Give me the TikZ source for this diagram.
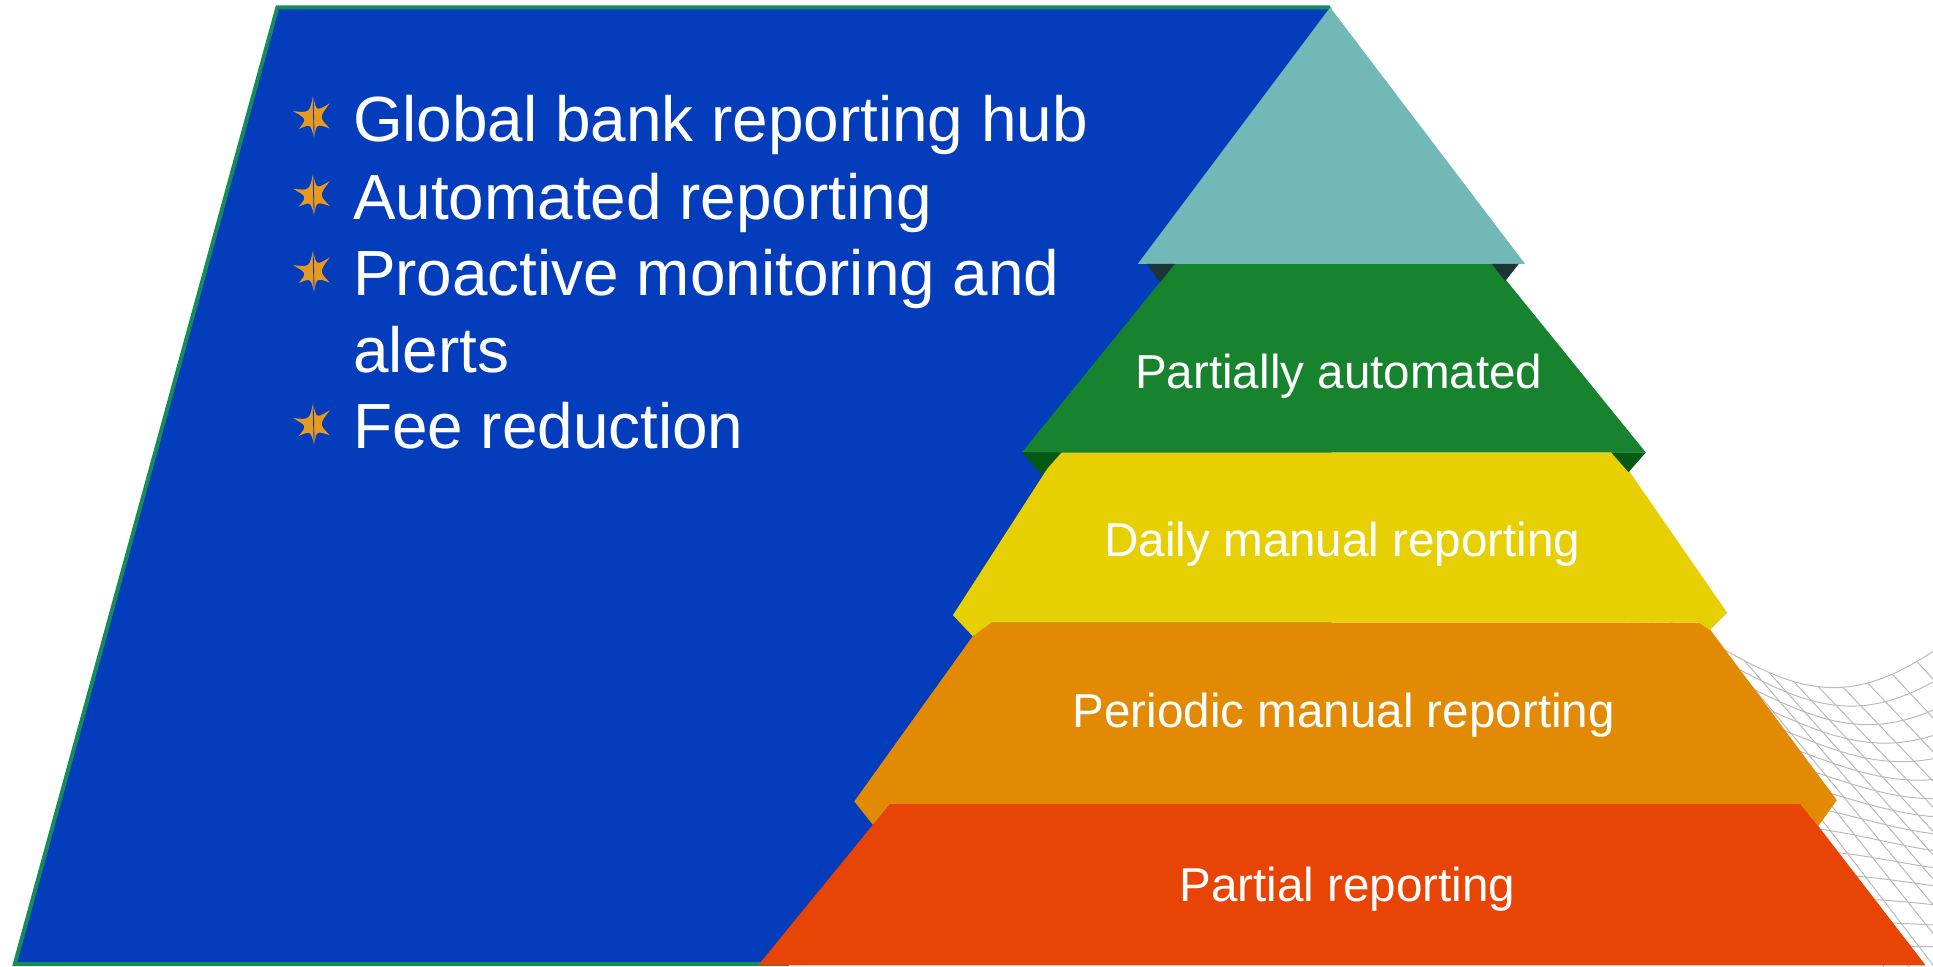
\documentclass[tikz,border=0pt]{standalone}
\usepackage{fontspec}
\setmainfont{Liberation Sans}
\definecolor{bluebg}{RGB}{3,61,188}
\definecolor{blueedge}{RGB}{22,140,90}
\definecolor{teal1}{RGB}{114,184,182}
\definecolor{tealtab}{RGB}{28,53,53}
\definecolor{green1}{RGB}{23,131,47}
\definecolor{greentab}{RGB}{3,90,18}
\definecolor{yellow1}{RGB}{230,208,4}
\definecolor{orange1}{RGB}{227,138,4}
\definecolor{red1}{RGB}{232,68,6}
\definecolor{staror}{RGB}{232,154,30}
\tikzset{
  meshline/.style={draw=black!27, line width=0.4pt},
  tierlabel/.style={text=white, font=\fontsize{19.3}{23}\selectfont, anchor=base, inner sep=0pt},
  bullettext/.style={text=white, font=\fontsize{25.9}{31}\selectfont, anchor=base west, inner sep=0pt},
  bstar/.pic={
    \fill[staror] (0,-18.4) .. controls (2.43,-5.51) .. (13.5,-12.2)
      .. controls (4.86,-0.74) .. (13.5,8.1)
      .. controls (2.57,4.37) .. (0.8,16.2)
      .. controls (-1.94,4.46) .. (-11.6,8.6)
      .. controls (-5.0,0.49) .. (-16.2,-5.9)
      .. controls (-2.92,-4.37) .. cycle;
    \draw[bluebg, line width=0.35pt] (0,-18.4) -- (0.8,16.2);
  }
}
\begin{document}
\begin{tikzpicture}[x=0.5pt,y=-0.5pt]
\useasboundingbox (0,0) rectangle (1568,784);
% background mesh
\begin{scope}
\clip (0,0) rectangle (1568,784);
\foreach \s in {-0.4,-0.3,...,1.45} {
  \draw[meshline] plot[domain=0:1.1,samples=25,variable=\t]
    ({1395+200*\s+240*\t},{525+290*\t+40*sin(180*\s)*(1-\t)-15*\s});
}
\foreach \t in {0,0.06,...,1.05} {
  \draw[meshline] plot[domain=-0.4:1.4,samples=40,variable=\s]
    ({1395+200*\s+240*\t},{525+290*\t+40*sin(180*\s)*(1-\t)-15*\s});
}
\end{scope}
% blue panel
\fill[bluebg] (225,6) -- (1080,6) -- (1080,782) -- (12,782) -- cycle;
\draw[blueedge, line width=1.6] (1079,6) -- (225,6) -- (12,782) -- (640,782);
% pyramid tiers (bottom to top)
\fill[red1] (722,652) -- (1461,652) -- (1562,783) -- (615,783) -- cycle;
\fill[orange1] (797,505) -- (1383,505) -- (1490,649) -- (1475,670) -- (1460,652)
  -- (722,652) -- (708,669) -- (693,650) -- cycle;
\fill[yellow1] (858,367) -- (1311,367) -- (1401,497) -- (1387,511) -- (1378,505)
  -- (804,505) -- (789,516) -- (773,499) -- cycle;
\fill[green1] (953,214) -- (1211,214) -- (1335,367) -- (829,367) -- cycle;
\fill[greentab] (829,367) -- (861,367) -- (845,385) -- cycle;
\fill[greentab] (1307,367) -- (1335,367) -- (1321,383) -- cycle;
\fill[teal1] (1079,6) -- (1237,214) -- (923,214) -- cycle;
\fill[tealtab] (930,214) -- (953,214) -- (941,229) -- cycle;
\fill[tealtab] (1210,214) -- (1232,214) -- (1221,228) -- cycle;
% tier labels
\node[tierlabel] (l1) at (1086,315) {Partially automated};
\node[tierlabel] (l2) at (1089,451) {Daily manual reporting};
\node[tierlabel] (l3) at (1090,590) {Periodic manual reporting};
\node[tierlabel] (l4) at (1093,731) {Partial reporting};
% bullets
\pic at (254,96) {bstar};
\pic at (254,159) {bstar};
\pic at (254,221) {bstar};
\pic at (254,345) {bstar};
\node[bullettext] (b1) at (286,115) {Global bank reporting hub};
\node[bullettext] (b2) at (286,178) {Automated reporting};
\node[bullettext] (b3) at (286,240) {Proactive monitoring and};
\node[bullettext] (b3b) at (286,302) {alerts};
\node[bullettext] (b4) at (286,364) {Fee reduction};
\end{tikzpicture}
\end{document}
